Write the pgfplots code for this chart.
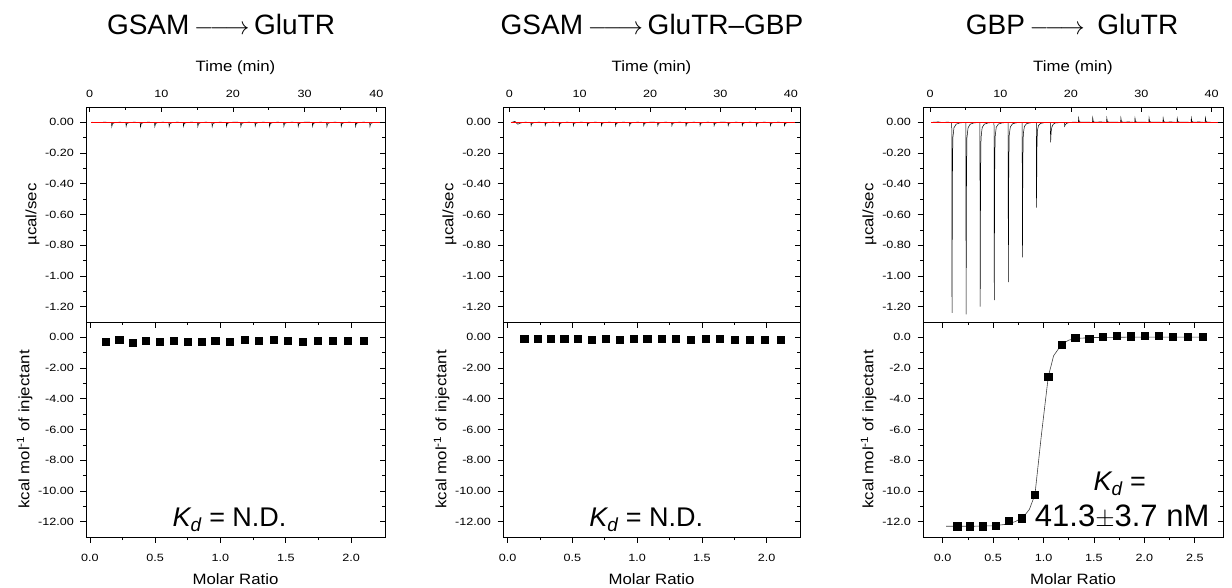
\documentclass[border=0pt]{standalone}
\usepackage{fontspec}
\setmainfont{Liberation Sans}
\newfontfamily\tickfont[FakeStretch=1.2]{Liberation Sans}
\newfontfamily\labfont[FakeStretch=1.12]{Liberation Sans}
\usepackage{pgfplots}
\pgfplotsset{compat=1.18}
\pgfplotsset{
  base/.style={scale only axis, anchor=south west, clip=false,
    axis line style={line width=0.8pt},
    every tick/.style={black, line width=0.7pt},
    major tick length=5.5pt, minor tick length=3pt,
    tick label style={font=\fontsize{10.5}{12}\tickfont},
    label style={font=\fontsize{15}{18}\labfont},
    yticklabel shift=3pt, ylabel shift=-1pt},
  upper/.style={base, width=#1, height=215pt, ymin=-1.3, ymax=0.1,
    ytick={-1.2,-1,-0.8,-0.6,-0.4,-0.2,0},
    yticklabels={-1.20,-1.00,-0.80,-0.60,-0.40,-0.20,0.00},
    minor y tick num=1, xtick={0,10,20,30,40}, minor x tick num=1},
  lower/.style={base, width=#1, height=215pt, ymin=-13, ymax=1,
    ytick={-12,-10,-8,-6,-4,-2,0}, minor y tick num=1, minor x tick num=1},
  uL/.style={xtick=\empty, ytick pos=left, tick align=outside, ylabel={µcal/sec}},
  uR/.style={xtick pos=right, xticklabel pos=right, ytick pos=right, tick align=inside,
    xticklabels={0,10,20,30,40}, yticklabels={}, xlabel={Time (min)},
    xticklabel shift=6pt, xlabel shift=9pt},
  lL/.style={xtick pos=left, ytick pos=left, tick align=outside, xlabel={Molar Ratio},
    ylabel={kcal mol\textsuperscript{-1} of injectant},
    xticklabel shift=8pt, xlabel shift=5pt},
  lR/.style={xtick pos=right, ytick pos=right, tick align=inside, xticklabels={}, yticklabels={}},
  trace/.style={black, line width=0.5pt, mark=none},
  base0/.style={red, line width=0.5pt, mark=none},
  pts/.style={only marks, mark=square*, mark size=3.6pt, black},
}
\begin{document}
\begin{tikzpicture}
\path[use as bounding box] (0,0) rectangle (1232pt,587pt);
% titles
\node[anchor=base, font=\fontsize{28}{32}\selectfont] at (221pt,552pt) {GSAM\,$\relbar\joinrel\longrightarrow$\,GluTR};
\node[anchor=base, font=\fontsize{28}{32}\selectfont] at (652pt,552pt) {GSAM\,$\relbar\joinrel\longrightarrow$\,GluTR\textendash GBP};
\node[anchor=base, font=\fontsize{28}{32}\selectfont] at (1072pt,552pt) {GBP\,$\relbar\joinrel\longrightarrow$\, GluTR};

% ================= Panel 1 =================
\begin{axis}[upper=299pt, uL, at={(86pt,265pt)}, xmin=-0.5, xmax=41.2]
\addplot[trace] coordinates {(0.3,0.001) (1.0,-0.002) (2.0,0.001)
(3.05,0) (3.1,-0.028) (3.2,-0.008) (3.5,-0.002) (4.1,0.001)
(5.05,0) (5.1,-0.026) (5.2,-0.007) (5.5,-0.002) (6.1,0.001)
(7.05,0) (7.1,-0.030) (7.2,-0.008) (7.5,-0.002) (8.1,0.001)
(9.05,0) (9.1,-0.027) (9.2,-0.007) (9.5,-0.002) (10.1,0.001)
(11.05,0) (11.1,-0.028) (11.2,-0.008) (11.5,-0.002) (12.1,0.001)
(13.05,0) (13.1,-0.026) (13.2,-0.007) (13.5,-0.002) (14.1,0.001)
(15.05,0) (15.1,-0.027) (15.2,-0.008) (15.5,-0.002) (16.1,0.001)
(17.05,0) (17.1,-0.028) (17.2,-0.008) (17.5,-0.002) (18.1,0.001)
(19.05,0) (19.1,-0.026) (19.2,-0.007) (19.5,-0.002) (20.1,0.002)
(21.05,0) (21.1,-0.027) (21.2,-0.008) (21.5,-0.002) (22.1,0.001)
(23.05,0) (23.1,-0.025) (23.2,-0.007) (23.5,-0.002) (24.1,0.001)
(25.05,0) (25.1,-0.028) (25.2,-0.008) (25.5,-0.002) (26.1,0.001)
(27.05,0) (27.1,-0.026) (27.2,-0.007) (27.5,-0.002) (28.1,0.001)
(29.05,0) (29.1,-0.027) (29.2,-0.008) (29.5,-0.002) (30.1,0.002)
(31.05,0) (31.1,-0.026) (31.2,-0.007) (31.5,-0.002) (32.1,0.001)
(33.05,0) (33.1,-0.028) (33.2,-0.008) (33.5,-0.002) (34.1,0.001)
(35.05,0) (35.1,-0.027) (35.2,-0.008) (35.5,-0.002) (36.1,0.001)
(37.05,0) (37.1,-0.026) (37.2,-0.007) (37.5,-0.002) (38.1,0.001)
(39.05,0) (39.1,-0.028) (39.2,-0.008) (39.5,-0.002) (40.5,0)};
\addplot[base0] coordinates {(0.2,0) (40.5,0)};
\end{axis}
\begin{axis}[upper=299pt, uR, at={(86pt,265pt)}, xmin=-0.5, xmax=41.2]
\end{axis}
\begin{axis}[lower=299pt, lL, at={(86pt,50pt)}, xmin=-0.03, xmax=2.26,
  yticklabels={-12.00,-10.00,-8.00,-6.00,-4.00,-2.00,0.00},
  xtick={0,0.5,1,1.5,2}, xticklabels={0.0,0.5,1.0,1.5,2.0}]
\addplot[pts] coordinates {(0.123,-0.28) (0.225,-0.17) (0.327,-0.33) (0.430,-0.24)
(0.537,-0.26) (0.639,-0.20) (0.749,-0.26) (0.857,-0.26) (0.959,-0.24) (1.069,-0.30)
(1.184,-0.15) (1.292,-0.22) (1.407,-0.15) (1.517,-0.20) (1.632,-0.26) (1.747,-0.20)
(1.862,-0.20) (1.977,-0.24) (2.097,-0.24)};
\node[anchor=base, font=\fontsize{27}{30}\selectfont] at (axis cs:1.07,-12.3)
  {{\itshape K\textsubscript{d}} = N.D.};
\end{axis}
\begin{axis}[lower=299pt, lR, at={(86pt,50pt)}, xmin=-0.03, xmax=2.26,
  xtick={0,0.5,1,1.5,2}]
\end{axis}

% ================= Panel 2 =================
\begin{axis}[upper=297pt, uL, at={(503pt,265pt)}, xmin=-0.9, xmax=41.3]
\addplot[trace] coordinates {(0.3,0) (0.8,0.006) (1.2,-0.012) (1.6,-0.004) (2.2,0.001)
(3.05,0) (3.1,-0.022) (3.2,-0.007) (3.5,-0.002) (4.1,0.001)
(5.05,0) (5.1,-0.021) (5.2,-0.006) (5.5,-0.002) (6.1,0.001)
(7.05,0) (7.1,-0.023) (7.2,-0.007) (7.5,-0.002) (8.1,0.001)
(9.05,0) (9.1,-0.022) (9.2,-0.006) (9.5,-0.002) (10.1,0.001)
(11.05,0) (11.1,-0.021) (11.2,-0.007) (11.5,-0.002) (12.1,0.001)
(13.05,0) (13.1,-0.022) (13.2,-0.006) (13.5,-0.002) (14.1,0.001)
(15.05,0) (15.1,-0.023) (15.2,-0.007) (15.5,-0.002) (16.1,0.001)
(17.05,0) (17.1,-0.021) (17.2,-0.006) (17.5,-0.002) (18.1,0.001)
(19.05,0) (19.1,-0.022) (19.2,-0.007) (19.5,-0.002) (20.1,0.002)
(21.05,0) (21.1,-0.021) (21.2,-0.006) (21.5,-0.002) (22.1,0.001)
(23.05,0) (23.1,-0.022) (23.2,-0.007) (23.5,-0.002) (24.1,0.001)
(25.05,0) (25.1,-0.023) (25.2,-0.007) (25.5,-0.002) (26.1,0.001)
(27.05,0) (27.1,-0.021) (27.2,-0.006) (27.5,-0.002) (28.1,0.001)
(29.05,0) (29.1,-0.022) (29.2,-0.007) (29.5,-0.002) (30.1,0.002)
(31.05,0) (31.1,-0.021) (31.2,-0.006) (31.5,-0.002) (32.1,0.001)
(33.05,0) (33.1,-0.022) (33.2,-0.007) (33.5,-0.002) (34.1,0.001)
(35.05,0) (35.1,-0.023) (35.2,-0.007) (35.5,-0.002) (36.1,0.001)
(37.05,0) (37.1,-0.021) (37.2,-0.006) (37.5,-0.002) (38.1,0.001)
(39.05,0) (39.1,-0.022) (39.2,-0.007) (39.5,-0.002) (40.8,0)};
\addplot[base0] coordinates {(0.2,0) (40.8,0)};
\end{axis}
\begin{axis}[upper=297pt, uR, at={(503pt,265pt)}, xmin=-0.9, xmax=41.3]
\end{axis}
\begin{axis}[lower=297pt, lL, at={(503pt,50pt)}, xmin=-0.036, xmax=2.257,
  yticklabels={-12.00,-10.00,-8.00,-6.00,-4.00,-2.00,0.00},
  xtick={0,0.5,1,1.5,2}, xticklabels={0.0,0.5,1.0,1.5,2.0}]
\addplot[pts] coordinates {(0.128,-0.11) (0.232,-0.11) (0.332,-0.11) (0.437,-0.11)
(0.541,-0.065) (0.649,-0.13) (0.754,-0.11) (0.862,-0.13) (0.970,-0.065) (1.078,-0.11)
(1.189,-0.11) (1.300,-0.11) (1.413,-0.15) (1.526,-0.11) (1.639,-0.11) (1.755,-0.13)
(1.871,-0.15) (1.987,-0.13) (2.110,-0.13)};
\node[anchor=base, font=\fontsize{27}{30}\selectfont] at (axis cs:1.07,-12.3)
  {{\itshape K\textsubscript{d}} = N.D.};
\end{axis}
\begin{axis}[lower=297pt, lR, at={(503pt,50pt)}, xmin=-0.036, xmax=2.257,
  xtick={0,0.5,1,1.5,2}]
\end{axis}

% ================= Panel 3 =================
\begin{axis}[upper=300pt, uL, at={(923pt,265pt)}, xmin=-1.0, xmax=41.6]
\addplot[trace] coordinates {(0.2,0) (1.2,0.003) (1.6,0) (2.5,0.001)
(3.08,0) (3.12,-1.24) (3.18,-0.35) (3.24,-0.10) (3.4,-0.035) (3.7,-0.012) (4.2,-0.004) (5.0,0)
(5.08,0) (5.12,-1.25) (5.18,-0.35) (5.24,-0.10) (5.4,-0.035) (5.7,-0.012) (6.2,-0.004) (7.0,0)
(7.08,0) (7.12,-1.20) (7.18,-0.34) (7.24,-0.10) (7.4,-0.034) (7.7,-0.012) (8.2,-0.004) (9.0,0)
(9.08,0) (9.12,-1.157) (9.18,-0.33) (9.24,-0.095) (9.4,-0.032) (9.7,-0.011) (10.2,-0.004) (11.0,0)
(11.08,0) (11.12,-1.04) (11.18,-0.30) (11.24,-0.085) (11.4,-0.030) (11.7,-0.010) (12.2,-0.003) (13.0,0)
(13.08,0) (13.12,-0.88) (13.18,-0.25) (13.24,-0.075) (13.4,-0.026) (13.7,-0.009) (14.2,-0.003) (15.0,0)
(15.08,0) (15.12,-0.555) (15.18,-0.17) (15.24,-0.055) (15.4,-0.020) (15.7,-0.007) (16.2,-0.002) (17.0,0)
(17.08,0) (17.12,-0.13) (17.2,-0.06) (17.3,-0.03) (17.5,-0.012) (17.8,-0.004) (19.0,0)
(19.08,0) (19.12,-0.025) (19.2,-0.015) (19.35,-0.008) (19.6,-0.003) (20.4,0.002) (21.0,0)
(21.06,0) (21.1,0.028) (21.18,0.006) (21.4,0.001) (22.2,0.002) (23.0,0)
(23.06,0) (23.1,0.030) (23.18,0.006) (23.4,0.001) (24.2,0.003) (25.0,0)
(25.06,0) (25.1,0.028) (25.18,0.006) (25.4,0.001) (26.2,0.002) (27.0,0)
(27.06,0) (27.1,0.029) (27.18,0.006) (27.4,0.001) (28.2,0.003) (29.0,0)
(29.06,0) (29.1,0.028) (29.18,0.006) (29.4,0.001) (30.2,0.002) (31.0,0)
(31.06,0) (31.1,0.029) (31.18,0.006) (31.4,0.001) (32.2,0.002) (33.0,0)
(33.06,0) (33.1,0.028) (33.18,0.006) (33.4,0.001) (34.2,0.003) (35.0,0)
(35.06,0) (35.1,0.027) (35.18,0.006) (35.4,0.001) (36.2,0.002) (37.0,0)
(37.06,0) (37.1,0.028) (37.18,0.006) (37.4,0.001) (38.2,0.003) (39.0,0)
(39.06,0) (39.1,0.029) (39.18,0.006) (39.4,0.001) (40.8,0)};
\addplot[base0] coordinates {(0.2,0) (41.2,0)};
\end{axis}
\begin{axis}[upper=300pt, uR, at={(923pt,265pt)}, xmin=-1.0, xmax=41.6]
\end{axis}
\begin{axis}[lower=300pt, lL, at={(923pt,50pt)}, xmin=-0.195, xmax=2.78,
  yticklabels={-12.0,-10.0,-8.0,-6.0,-4.0,-2.0,0.0},
  xtick={0,0.5,1,1.5,2,2.5}, xticklabels={0.0,0.5,1.0,1.5,2.0,2.5}]
\addplot[black!75, line width=0.6pt, mark=none] coordinates {(0.033,-12.30) (0.3,-12.30)
(0.5,-12.27) (0.62,-12.18) (0.72,-12.0) (0.80,-11.7) (0.86,-11.2) (0.915,-10.24)
(0.98,-6.3) (1.047,-2.57) (1.10,-1.2) (1.179,-0.46) (1.25,-0.18) (1.35,-0.06)
(1.5,-0.01) (1.8,0.01) (2.2,0.02) (2.576,0.02)};
\addplot[pts] coordinates {(0.145,-12.30) (0.271,-12.30) (0.396,-12.30) (0.525,-12.28)
(0.654,-11.96) (0.783,-11.78) (0.915,-10.24) (1.047,-2.57) (1.179,-0.46) (1.314,-0.02)
(1.453,-0.07) (1.585,0.04) (1.724,0.13) (1.863,0.07) (2.005,0.11) (2.143,0.09)
(2.285,0.02) (2.427,0.04) (2.576,0.02)};
\node[anchor=base, font=\fontsize{27}{30}\selectfont] at (axis cs:1.757,-9.94)
  {{\itshape K\textsubscript{d}} =};
\node[anchor=base, font=\fontsize{31}{34}\selectfont, inner sep=0pt] at (axis cs:1.78,-12.33)
  {41.3$\pm$3.7 nM};
\end{axis}
\begin{axis}[lower=300pt, lR, at={(923pt,50pt)}, xmin=-0.195, xmax=2.78,
  xtick={0,0.5,1,1.5,2,2.5}]
\end{axis}
\end{tikzpicture}
\end{document}
